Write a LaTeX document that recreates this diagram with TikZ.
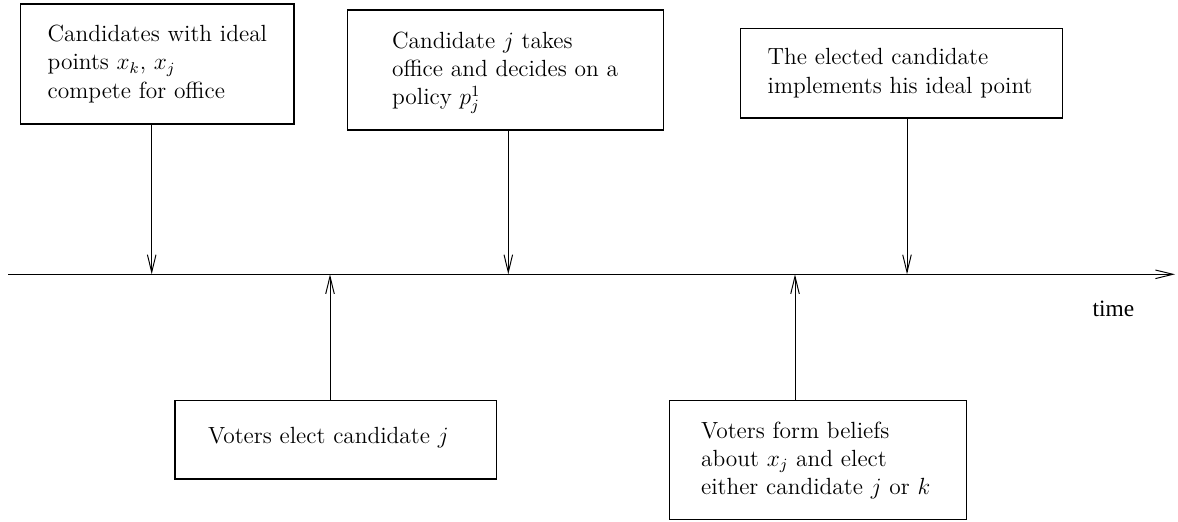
\documentclass[tikz,border=0pt]{standalone}
\usepackage{fontspec}
\newfontfamily\timesfont{Liberation Serif}
\usetikzlibrary{arrows.meta,fit}
\begin{document}
\begin{tikzpicture}[x=0.5128pt,y=-0.5128pt,
  box/.style={draw, line width=0.55pt, rectangle, inner sep=0pt},
  txt/.style={anchor=base west, inner sep=0pt, text width=180pt, align=left,
              font=\fontsize{12pt}{14.5pt}\selectfont},
  arr/.style={line width=0.5pt, -{Straight Barb[length=9pt,width=4.4pt]}}]
\useasboundingbox (0,0) rectangle (1178,522);

% boxes
\node[box, fit={(20.5,4) (294,124)}] (b1) {};
\node[box, fit={(347.3,10) (663.3,130)}] (b2) {};
\node[box, fit={(740.3,28.3) (1062.3,118)}] (b3) {};
\node[box, fit={(175,400.7) (496.7,479)}] (b4) {};
\node[box, fit={(669.3,400.7) (966.7,519.3)}] (b5) {};

% texts
\node[txt] (t1) at (47.3,41.7) {Candidates with ideal\\ points $x_k$, $x_j$\\ compete for office};
\node[txt] (t2) at (391.7,48.3) {Candidate $j$ takes\\ office and decides on a\\ policy $p_j^1$};
\node[txt] (t3) at (767.3,65) {The elected candidate\\ implements his ideal point};
\node[txt] (t4) at (207.7,443.3) {Voters elect candidate $j$};
\node[txt] (t5) at (700.7,438) {Voters form beliefs\\ about $x_j$ and elect\\ either candidate $j$ or $k$};
\node[anchor=base west, inner sep=0pt, font=\timesfont\fontsize{12pt}{14.5pt}\selectfont] (tm) at (1092.3,316.7) {time};

% time axis
\coordinate (ax0) at (8,274.3);
\coordinate (ax1) at (1175,274.3);
\draw[arr] (ax0) -- (ax1);

% event points on the axis
\coordinate (e1) at (151.7,274.3);
\coordinate (e2) at (330,274.3);
\coordinate (e3) at (508.3,274.3);
\coordinate (e4) at (795,274.3);
\coordinate (e5) at (907,274.3);

% connectors
\draw[arr] (b1.south -| e1) -- (e1);
\draw[arr] (b2.south -| e3) -- (e3);
\draw[arr] (b3.south -| e5) -- (e5);
\draw[arr] (b4.north -| e2) -- (e2);
\draw[arr] (b5.north -| e4) -- (e4);
\end{tikzpicture}
\end{document}
